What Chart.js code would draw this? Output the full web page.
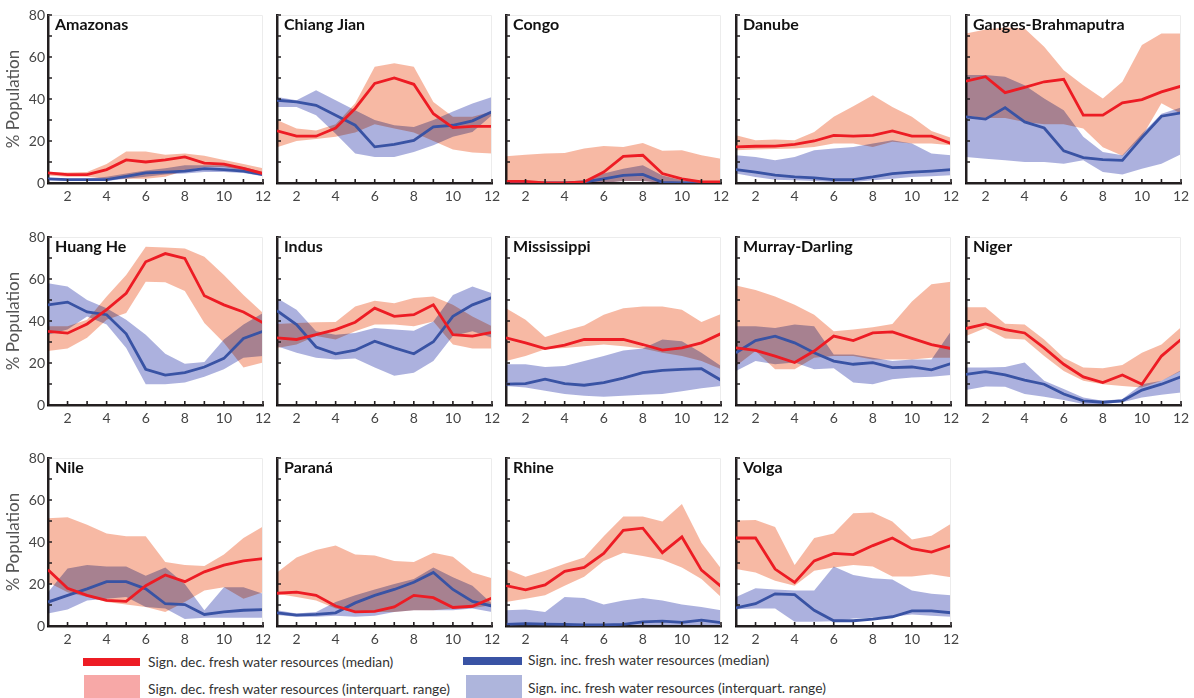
<!DOCTYPE html>
<html lang="en">
<head>
<meta charset="UTF-8">
<title>Fresh water resources by basin</title>
<script src="https://cdn.jsdelivr.net/npm/chart.js"></script>
<style>
    body { margin: 0; background: #fff; font-family: "Lato", sans-serif; }
    #page { position: relative; width: 1194px; height: 698px; overflow: hidden; }
    .panel { position: absolute; }
    .swatch { position: absolute; }
    .ltext { position: absolute; font-size: 13.8px; color: #333; line-height: 16px; white-space: nowrap; }
</style>
</head>
<body>
<div id="page">
    <div class="swatch" style="left:83px;top:658px;width:57px;height:8px;background:#ed1c24"></div>
    <div class="ltext" style="left:148px;top:654px">Sign. dec. fresh water resources (median)</div>
    <div class="swatch" style="left:84px;top:675px;width:56px;height:23px;background:#f7a8a7"></div>
    <div class="ltext" style="left:148px;top:681px">Sign. dec. fresh water resources (interquart. range)</div>
    <div class="swatch" style="left:463px;top:657px;width:59px;height:8px;background:#3953a4"></div>
    <div class="ltext" style="left:528px;top:652px">Sign. inc. fresh water resources (median)</div>
    <div class="swatch" style="left:466px;top:675px;width:56px;height:23px;background:#aeb5dc"></div>
    <div class="ltext" style="left:528px;top:680px">Sign. inc. fresh water resources (interquart. range)</div>
</div>
<script>
// months on the x axis and tick values
const months = [1, 2, 3, 4, 5, 6, 7, 8, 9, 10, 11, 12];
const yMinorTicks = [0, 10, 20, 30, 40, 50, 60, 70, 80];

const basins = ['Amazonas', 'Chiang Jian', 'Congo', 'Danube', 'Ganges-Brahmaputra',
    'Huang He', 'Indus', 'Mississippi', 'Murray-Darling', 'Niger',
    'Nile', 'Paraná', 'Rhine', 'Volga'];

// significant decrease (red): median, lower and upper quartile
const decMedian = [
    [4.8, 4, 4, 6.4, 11, 10, 11, 12.4, 9.5, 9, 7, 4.5],
    [24.8, 22.3, 22.3, 26.2, 35.5, 47.4, 50, 47, 33, 26.4, 27, 27],
    [0.8, 0.8, 0, 0, 0.5, 5.2, 12.7, 13.2, 4.5, 2, 0.5, 0.5],
    [17.2, 17.5, 17.6, 18.4, 20, 22.7, 22.3, 22.7, 24.8, 22.3, 22.3, 18.8],
    [48.5, 50.6, 43, 45.5, 48.2, 49.4, 32.3, 32.3, 38.2, 39.7, 43.4, 46.1],
    [35.1, 34.2, 38.6, 45.4, 53.2, 68.2, 72.1, 69.8, 52, 47.7, 44.3, 39.1],
    [32, 31.2, 33.5, 35.9, 39.4, 46.1, 42.2, 43, 47.7, 33.5, 32.8, 34.6],
    [32, 29.6, 26.9, 28.5, 31.2, 31.2, 31.2, 28.8, 26.1, 27.2, 29.6, 34],
    [27.2, 26, 23.3, 20.2, 25.7, 32.8, 30.7, 34.3, 34.8, 31.7, 28.8, 26.9],
    [36.4, 38.6, 35.9, 34.3, 27.2, 19.4, 13.4, 10.7, 14.3, 9.9, 23.3, 31.2],
    [26.8, 18, 14.6, 12.2, 11.7, 19.2, 24.3, 21.1, 25.8, 29, 31, 32.1],
    [15.6, 16.1, 14.6, 9.5, 6.7, 7, 9.1, 14.6, 13.5, 8.8, 9.4, 13.3],
    [19.2, 17.2, 19.6, 26, 27.9, 34.6, 45.5, 46.6, 34.9, 42.4, 26.6, 18.9],
    [41.9, 41.9, 27.1, 20.8, 31, 34.6, 34, 38.3, 41.9, 36.8, 35.2, 38.3]
];
const decLow = [
    [3.6, 3, 3, 2, 2, 2, 3, 6, 7.6, 7.6, 6, 3.7],
    [17, 20, 21, 22, 24, 28, 26, 24, 20, 16, 14.5, 14],
    [0, 0, 0, 0, 0, 0, 1, 1, 0, 0, 0, 0],
    [15.6, 15.9, 16.2, 16.4, 17.2, 18.8, 18.8, 17.2, 19.6, 18.8, 18.8, 18],
    [32, 31, 31, 29, 28, 28, 26, 17, 13, 22, 38, 33],
    [25.7, 26.9, 32, 40.6, 43.8, 58.7, 58.4, 54.3, 39, 29.6, 17.8, 20.2],
    [27.2, 28.8, 32.8, 31.2, 35.1, 38.3, 38.3, 37.5, 39.8, 28.8, 26.9, 26.9],
    [20.9, 23.3, 26.5, 27.2, 28, 28.8, 28, 26.9, 24.9, 23.3, 20.9, 17],
    [18.6, 25.7, 17, 17, 22.5, 23.3, 23.3, 21.7, 21.7, 21.7, 22.5, 22.5],
    [32.8, 36.7, 31.7, 31.2, 23.3, 16.2, 11.5, 9.9, 9.1, 8.3, 11.5, 16.2],
    [20.8, 16.1, 13.8, 11.4, 10.2, 9.1, 6.7, 11.4, 16.9, 18.5, 13, 16.1],
    [15.3, 13.8, 12.2, 8.3, 6.7, 6.7, 6.7, 7.5, 7.5, 8.3, 8.6, 9.9],
    [11.4, 13, 14.6, 19.2, 23.5, 31, 34.9, 33.3, 31.5, 27.9, 22.4, 13.8],
    [27.1, 25.5, 21.6, 19.2, 26.3, 27.9, 29, 28.3, 23.6, 23.6, 24.7, 23.2]
];
const decHigh = [
    [5.2, 5, 5.2, 9, 15, 15, 13.5, 14, 13, 11, 9, 7],
    [30, 26, 25, 28, 38, 55.3, 57, 55.3, 38.6, 31.5, 31.5, 34],
    [12.7, 13.5, 14, 14.3, 16.4, 17.6, 17.2, 19, 15.3, 15.6, 13.2, 11.6],
    [22.7, 20.3, 20.7, 20.3, 24.3, 31.5, 36.6, 41.8, 36.2, 31.5, 24.8, 21.6],
    [71.2, 73.1, 74, 73.6, 64.9, 53.7, 46.6, 40.2, 48.2, 65.7, 71.2, 71.2],
    [37.5, 37.5, 40.6, 51.7, 61.9, 75.3, 75, 74.5, 70.6, 61.9, 52.4, 43.8],
    [38.6, 39, 39.4, 39.5, 46.9, 49.6, 48.5, 50.9, 51.7, 47.7, 42.2, 37.5],
    [46.1, 40.6, 32.4, 35.4, 37.8, 43, 46.1, 46.9, 46.9, 45.4, 39.5, 43.3],
    [56.9, 54.8, 51.7, 47.7, 43, 35.1, 35.9, 37, 38.6, 49.3, 57.5, 58.7],
    [46.5, 46.5, 38.7, 38.3, 31.2, 22.5, 17.8, 17.5, 19.1, 24.9, 28.8, 37],
    [51.3, 51.8, 48.2, 44, 42.7, 42.7, 30.5, 29, 28.6, 34.1, 41.9, 47.4],
    [25.5, 32.6, 36.2, 38.3, 34.1, 33.6, 31, 30.5, 34.9, 33, 25.5, 22.7],
    [27.1, 23.5, 26.3, 29.7, 32.6, 42.7, 52.1, 52.1, 49.8, 58.1, 39.6, 27.4],
    [50.2, 50.5, 47.1, 29, 41.9, 44, 53.7, 54, 49.8, 41.2, 43, 48.7]
];

// significant increase (blue): median, lower and upper quartile
const incMedian = [
    [2, 1.6, 1.6, 1.6, 3.2, 4.8, 5.2, 5.7, 6.8, 6.4, 5.7, 4],
    [39.4, 38.6, 37, 32.3, 27.5, 17.2, 18.4, 20.3, 26.7, 27.5, 29.6, 33.9],
    [0, 0, 0, 0, 0.5, 2, 3.6, 4.1, 0.3, 0, 0, 0],
    [6.4, 5.2, 3.7, 2.9, 2.4, 1.6, 1.6, 2.9, 4.5, 5.2, 5.7, 6.4],
    [31.5, 30.4, 35.9, 29.1, 26.2, 15.3, 12.1, 11.1, 10.8, 21.6, 31.8, 33.4],
    [47.7, 49, 44.3, 43, 33.9, 17, 14.2, 15.4, 18.1, 22.2, 31.7, 35.1],
    [44.9, 38.3, 27.6, 24.4, 26.1, 30.4, 27.2, 24.4, 30.1, 42.2, 47.7, 51.2],
    [9.9, 10.2, 12.3, 10.2, 9.4, 10.7, 12.8, 15.4, 16.5, 17, 17.3, 11.8],
    [24.9, 30.7, 32.8, 29.6, 24.9, 20.9, 19.4, 20.2, 17.8, 18.1, 16.7, 19.7],
    [14.6, 15.9, 14.3, 11.8, 9.9, 5.2, 2, 1.3, 2, 7.1, 9.9, 13.4],
    [11.4, 14.6, 17.7, 21.1, 21.1, 17.7, 10.6, 10.2, 5.5, 6.7, 7.5, 7.8],
    [6.3, 5.2, 5.5, 6.3, 11, 14.6, 17.4, 20.8, 25.5, 17.4, 11.7, 9.5],
    [0.8, 1.1, 0.9, 0.8, 0.5, 0.5, 0.8, 2, 2.3, 1.7, 2.8, 1.6],
    [8.6, 10.6, 15.3, 14.9, 7.5, 2.5, 2.5, 3.3, 4.4, 7.2, 7.2, 6.3]
];
const incLow = [
    [1.3, 1, 1, 1, 2, 3, 4, 4.5, 5.2, 5.2, 4.8, 3.2],
    [36.2, 36.2, 32.3, 23.5, 14, 12.4, 12.4, 14.8, 18, 22, 24.3, 32.3],
    [0, 0, 0, 0, 0, 0, 1, 1, 0, 0, 0, 0],
    [4.5, 2.9, 1.6, 1.3, 1, 0.5, 0.5, 1.3, 2, 2.9, 3.2, 3.7],
    [12.4, 11.6, 10.8, 10, 10, 9.2, 10.8, 5.2, 4.1, 6.8, 9.2, 13.7],
    [33.5, 35.9, 42.2, 38.3, 27.2, 9.9, 9.9, 10.7, 13.4, 17, 22.5, 23.3],
    [28, 24.9, 22.5, 21.7, 22.2, 17.8, 13.9, 15.4, 20.9, 32.8, 35.1, 32],
    [9.1, 8.3, 6.8, 5.2, 4.4, 3.9, 4.4, 4.9, 5.2, 6.5, 8, 9.1],
    [16.2, 20.9, 19.4, 20.2, 17, 17.5, 10.7, 9.9, 12.3, 13.1, 13.4, 14.3],
    [7.2, 8.8, 8.7, 5.2, 3.9, 2.4, 0.5, 0.5, 1.3, 3.6, 4.9, 6],
    [5.9, 7.8, 12.2, 13, 13.8, 9.1, 8.3, 3.3, 3.9, 3.9, 3.9, 3.9],
    [5.2, 4.4, 4.4, 4.9, 4.4, 4.9, 6.7, 7.5, 7.5, 7.5, 8.3, 6.7],
    [0.4, 0.3, 0.3, 0.3, 0.3, 0.3, 0.3, 0.3, 0.3, 0.3, 0.3, 0.3],
    [8, 8.3, 8.3, 2, 2, 2.3, 3.6, 3.9, 4.4, 5.5, 4.9, 4.4]
];
const incHigh = [
    [2.5, 2, 2, 3, 4.5, 6, 7, 8.4, 8.4, 8.4, 7.6, 5.2],
    [41, 39.4, 44.2, 39.4, 34.7, 30, 27.5, 26.7, 30, 34, 37.8, 41],
    [0.5, 0.5, 0, 0, 1.3, 4.5, 6.8, 8.4, 3.6, 1.3, 0.5, 0.5],
    [13.2, 12.4, 10.8, 12.4, 15.6, 16.4, 17.2, 18.8, 20.3, 18.8, 14, 13.2],
    [51.4, 51.4, 50.6, 46.6, 40.2, 34.7, 22, 14.8, 13.2, 23.5, 33, 36],
    [58, 56.4, 50, 46.1, 40.6, 33.5, 24.4, 19.7, 20.5, 31.2, 38.3, 43.8],
    [50.9, 45.4, 35.1, 33.5, 34.3, 36.7, 35.9, 35.4, 39.8, 52.4, 56.4, 53.2],
    [19.4, 19.4, 18.1, 18.6, 20.9, 23.3, 26, 26.9, 31.2, 30.4, 24.9, 18.6],
    [37.5, 37.5, 36.7, 38.3, 37.5, 24.1, 24.1, 22.5, 20.9, 21.7, 21.7, 35.1],
    [17.8, 17.8, 18.1, 20.2, 11.5, 7.6, 3.6, 2, 2.8, 9.9, 11.5, 16.5],
    [16.1, 27.4, 29.1, 28.3, 28.3, 23.9, 27.9, 20, 7.5, 18.5, 18.5, 15.3],
    [7.5, 5.9, 6.7, 11.4, 14.6, 17.4, 20, 22.4, 27.9, 23.2, 19.2, 10.6],
    [7.5, 7.8, 6.7, 13.8, 13.3, 10.2, 12.2, 13.3, 12.2, 10.2, 9.1, 7.5],
    [13.8, 18, 17.4, 16.9, 16.9, 28.3, 24.3, 22.7, 22.1, 16.9, 15.3, 14.6]
];

// grid of small panels (plot area corners in page pixels)
const colLeft = [48, 277, 506, 736, 966];
const rowTop = [15, 237, 458];
const plotW = 215, plotH = 168;
const axisW = 45, padTop = 10, padRight = 14, axisH = 26;

Chart.defaults.font.family = 'Lato';

// bands are blended with multiply so the overlap turns mauve; lines are drawn normally
const bandBlend = {
    id: 'bandBlend',
    beforeDraw(chart) {
        chart.ctx.globalCompositeOperation = 'multiply';
    },
    beforeDatasetDraw(chart) {
        chart.ctx.globalCompositeOperation = 'source-over';
    }
};

// draws small tick marks pointing into the plot, and a faint frame
const insideTicks = {
    id: 'insideTicks',
    afterDatasetsDraw(chart) {
        const { ctx, chartArea: a, scales: { x, y } } = chart;
        ctx.save();
        ctx.globalCompositeOperation = 'source-over';
        ctx.strokeStyle = '#ececec';
        ctx.lineWidth = 1;
        ctx.beginPath();
        ctx.moveTo(a.left, a.top + 0.5);
        ctx.lineTo(a.right - 0.5, a.top + 0.5);
        ctx.lineTo(a.right - 0.5, a.bottom);
        ctx.stroke();
        ctx.strokeStyle = '#231f20';
        ctx.lineWidth = 1.6;
        ctx.beginPath();
        months.forEach(m => {
            const px = x.getPixelForValue(m);
            ctx.moveTo(px, a.bottom);
            ctx.lineTo(px, a.bottom - 4);
        });
        yMinorTicks.forEach(v => {
            const py = y.getPixelForValue(v);
            ctx.moveTo(a.left, py);
            ctx.lineTo(a.left + 4, py);
        });
        ctx.stroke();
        ctx.restore();
    }
};

// basin name in the top left corner of the plot
const panelTitle = {
    id: 'panelTitle',
    afterDraw(chart, args, opts) {
        const { ctx, chartArea: a } = chart;
        ctx.save();
        ctx.globalCompositeOperation = 'source-over';
        ctx.font = 'bold 16px Lato';
        ctx.fillStyle = '#111';
        ctx.textBaseline = 'alphabetic';
        ctx.fillText(opts.text, a.left + 7, a.top + 15);
        ctx.restore();
    }
};

const page = document.getElementById('page');

basins.forEach((name, i) => {
    const col = i % 5, row = Math.floor(i / 5);
    const firstCol = col === 0;
    const div = document.createElement('div');
    div.className = 'panel';
    div.style.left = (colLeft[col] - axisW) + 'px';
    div.style.top = (rowTop[row] - padTop) + 'px';
    const canvas = document.createElement('canvas');
    canvas.width = axisW + plotW + padRight;
    canvas.height = padTop + plotH + axisH;
    div.appendChild(canvas);
    page.appendChild(div);

    const pts = arr => arr.map((v, k) => ({ x: months[k], y: v }));
    const band = { pointRadius: 0, borderWidth: 0 };

    new Chart(canvas, {
        type: 'line',
        data: {
            datasets: [
                { data: pts(decMedian[i]), borderColor: '#ed1c24', borderWidth: 2.8, pointRadius: 0, fill: false },
                { data: pts(incMedian[i]), borderColor: '#3953a4', borderWidth: 2.8, pointRadius: 0, fill: false },
                { data: pts(decHigh[i]), ...band, fill: 3, backgroundColor: 'rgba(240, 128, 90, 0.55)' },
                { data: pts(decLow[i]), ...band, fill: false },
                { data: pts(incHigh[i]), ...band, fill: 5, backgroundColor: 'rgba(90, 100, 190, 0.5)' },
                { data: pts(incLow[i]), ...band, fill: false }
            ]
        },
        options: {
            responsive: false,
            animation: false,
            events: [],
            layout: { padding: { left: 0, top: padTop, right: padRight, bottom: 0 } },
            plugins: {
                legend: { display: false },
                tooltip: { enabled: false },
                filler: { drawTime: 'beforeDatasetsDraw' },
                panelTitle: { text: name }
            },
            scales: {
                x: {
                    type: 'linear',
                    min: 1,
                    max: 12,
                    grid: { display: false, drawTicks: false },
                    border: { display: true, color: '#231f20', width: 2.5 },
                    ticks: {
                        stepSize: 1,
                        autoSkip: false,
                        maxRotation: 0,
                        padding: 5,
                        color: '#444',
                        font: { size: 14 },
                        callback: v => (v % 2 === 0 ? v : '')
                    },
                    afterFit(scale) {
                        scale.height = axisH;
                        scale.paddingLeft = 0;
                        scale.paddingRight = 0;
                    }
                },
                y: {
                    min: 0,
                    max: 80,
                    grid: { display: false, drawTicks: false },
                    border: { display: true, color: '#231f20', width: 2.5 },
                    ticks: {
                        display: firstCol,
                        stepSize: 20,
                        padding: 3,
                        color: '#444',
                        font: { size: 14 }
                    },
                    title: {
                        display: firstCol,
                        text: '% Population',
                        color: '#555',
                        font: { size: 17 },
                        padding: { top: 0, bottom: 0 }
                    },
                    afterFit(scale) {
                        scale.width = axisW;
                        scale.paddingTop = 0;
                        scale.paddingBottom = 0;
                    }
                }
            }
        },
        plugins: [bandBlend, insideTicks, panelTitle]
    });
});
</script>
</body>
</html>
